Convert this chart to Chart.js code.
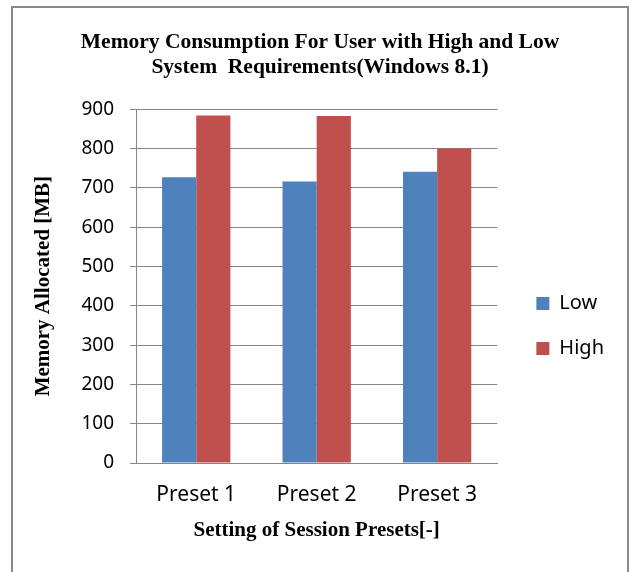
<!DOCTYPE html>
<html>
<head>
<meta charset="utf-8">
<script src="https://cdn.jsdelivr.net/npm/chart.js@4.4.1/dist/chart.umd.min.js"></script>
<style>
  html, body { margin: 0; padding: 0; background: #fff; }
  #wrap { position: relative; width: 631px; height: 572px; overflow: hidden; }
  #frame { position: absolute; left: 11px; top: 6px; width: 618px; height: 600px; border: 2px solid #888; box-sizing: border-box; }
  canvas { position: absolute; left: 0; top: 0; }
</style>
</head>
<body>
<div id="wrap">
  <div id="frame"></div>
  <canvas id="memChart" width="631" height="572"></canvas>
</div>
<script>
// Data
const presets = ['Preset 1', 'Preset 2', 'Preset 3'];
const lowValues = [727, 716, 741];
const highValues = [884, 883, 800];
const yTicks = [0, 100, 200, 300, 400, 500, 600, 700, 800, 900];

const serif = "'Liberation Serif', 'Times New Roman', serif";
const sans = "'Noto Sans', 'Open Sans', sans-serif";

// move title and legend a bit to the right, like in the original figure
const boxNudge = {
    id: 'boxNudge',
    afterLayout(chart) {
        const dx = 14;
        chart.legend.left += dx;
        chart.legend.right += dx;
        chart.titleBlock.left += dx;
        chart.titleBlock.right += dx;
    }
};

const ctx = document.getElementById('memChart').getContext('2d');
const memChart = new Chart(ctx, {
    type: 'bar',
    data: {
        labels: presets,
        datasets: [
            {
                label: 'Low',
                data: lowValues,
                backgroundColor: '#4F81BD'
            },
            {
                label: 'High',
                data: highValues,
                backgroundColor: '#C0504D'
            }
        ]
    },
    plugins: [boxNudge],
    options: {
        responsive: false,
        animation: false,
        layout: {
            padding: { left: 12, right: 31, top: 0, bottom: 0 }
        },
        datasets: {
            bar: { categoryPercentage: 0.567, barPercentage: 1.0 }
        },
        scales: {
            x: {
                grid: { display: false, drawTicks: false },
                border: { color: '#868686', width: 1 },
                ticks: { color: '#000', padding: 19, font: { family: sans, size: 21 } },
                title: {
                    display: true,
                    text: 'Setting of Session Presets[-]',
                    color: '#000',
                    font: { family: serif, size: 21, weight: 'bold' },
                    padding: { top: 0, bottom: 29 }
                },
                afterFit: (scale) => { scale.height = 109; }
            },
            y: {
                min: 0,
                max: 900,
                afterBuildTicks: (scale) => { scale.ticks = yTicks.map(v => ({ value: v })); },
                grid: { color: '#868686', tickLength: 6, lineWidth: 1 },
                border: { color: '#868686', width: 1 },
                ticks: { color: '#000', padding: 16, font: { family: sans, size: 19 } },
                title: {
                    display: true,
                    text: 'Memory Allocated [MB]',
                    color: '#000',
                    font: { family: serif, size: 21, weight: 'bold' },
                    padding: { top: 19, bottom: 0 }
                },
                afterFit: (scale) => { scale.width = 124; }
            }
        },
        plugins: {
            title: {
                display: true,
                text: ['Memory Consumption For User with High and Low', 'System  Requirements(Windows 8.1)'],
                color: '#000',
                font: { family: serif, size: 21.5, weight: 'bold', lineHeight: 1.17 },
                padding: { top: 30, bottom: 29 }
            },
            legend: {
                position: 'right',
                title: { display: true, text: '', font: { size: 10 }, padding: { top: 0, bottom: 68 } },
                labels: {
                    color: '#000',
                    boxWidth: 13,
                    boxHeight: 13,
                    padding: 25,
                    font: { family: sans, size: 20 }
                }
            },
            tooltip: { enabled: false }
        }
    }
});
</script>
</body>
</html>
